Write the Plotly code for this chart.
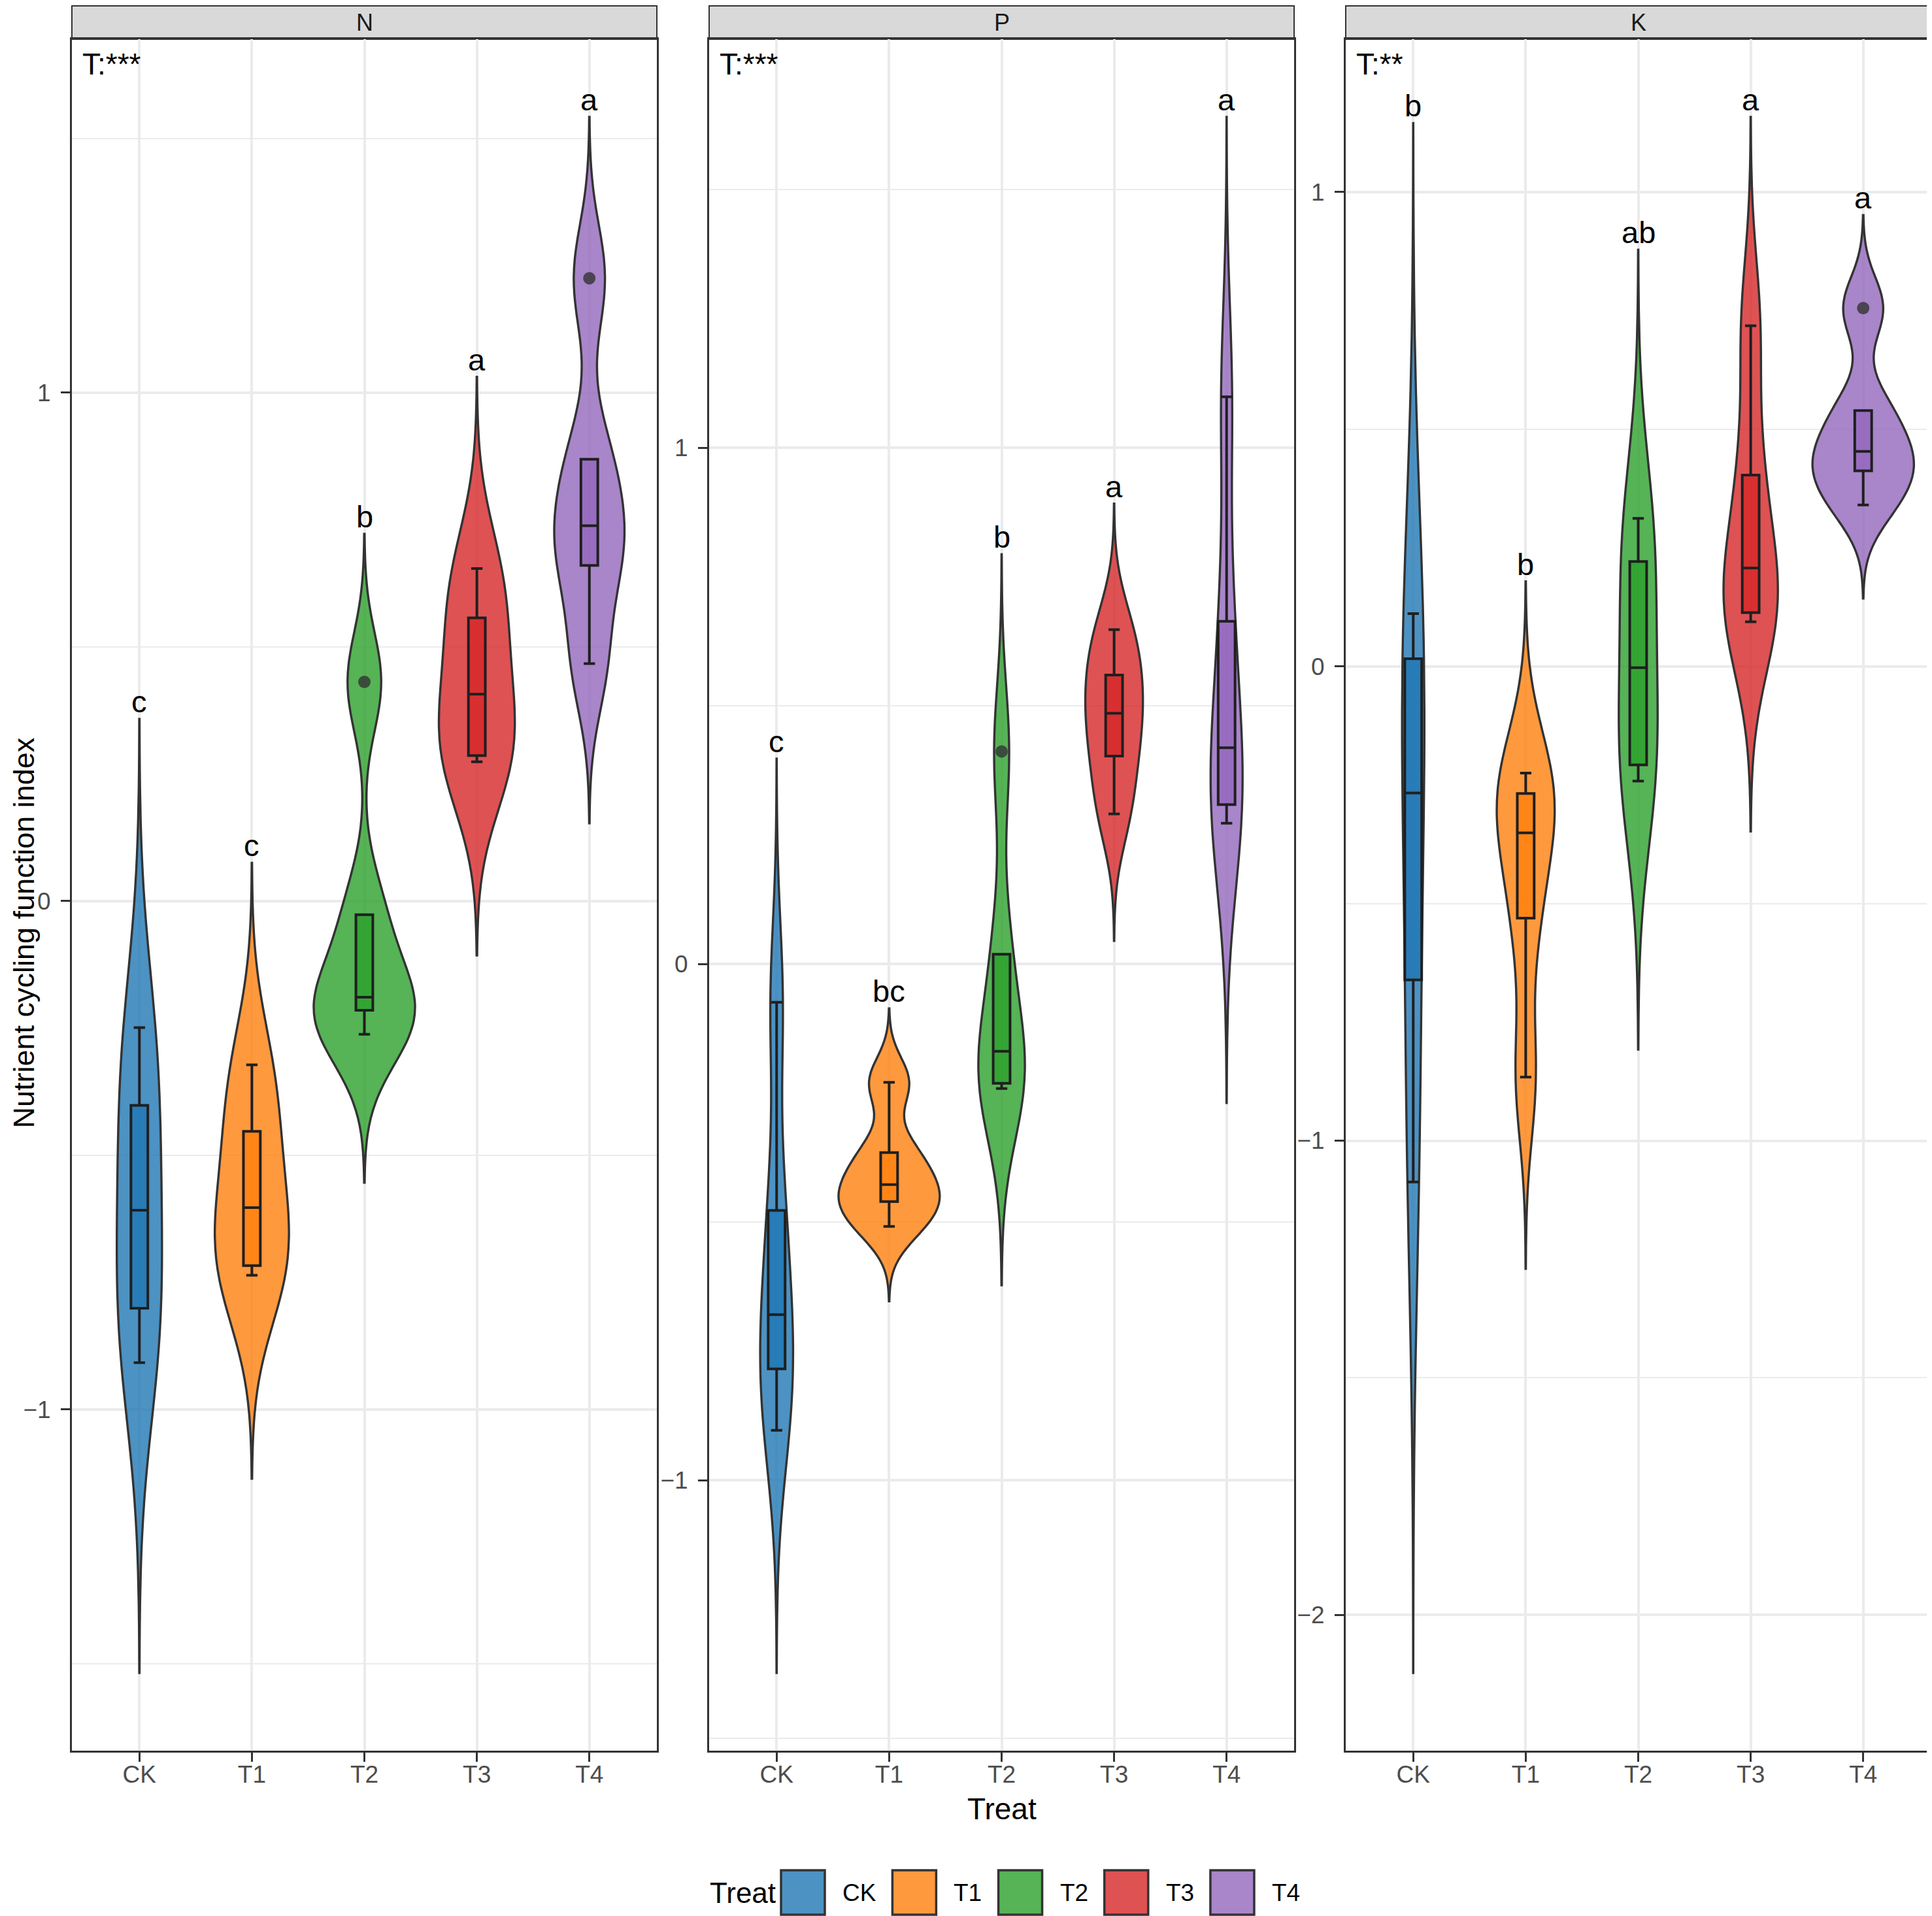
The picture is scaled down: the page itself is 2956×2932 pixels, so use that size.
import numpy as np
import plotly.graph_objects as go

# Treatments, panels and colours
TREATS = ['CK', 'T1', 'T2', 'T3', 'T4']
PANELS = ['N', 'P', 'K']
COLORS = ['#1f77b4', '#ff7f0e', '#2ca02c', '#d62728', '#9467bd']

# Sample values per treatment (min, Q1, median, Q3, max / outlier)
N_CK = [-0.908, -0.801, -0.608, -0.402, -0.249]
N_T1 = [-0.736, -0.717, -0.603, -0.453, -0.322]
N_T2 = [-0.262, -0.215, -0.189, -0.027, 0.431]
N_T3 = [0.274, 0.286, 0.407, 0.557, 0.654]
N_T4 = [0.467, 0.660, 0.738, 0.869, 1.225]

P_CK = [-0.903, -0.784, -0.679, -0.477, -0.074]
P_T1 = [-0.508, -0.460, -0.427, -0.365, -0.229]
P_T2 = [-0.241, -0.231, -0.169, 0.019, 0.412]
P_T3 = [0.291, 0.403, 0.486, 0.560, 0.648]
P_T4 = [0.273, 0.309, 0.419, 0.664, 1.099]

K_CK = [-1.087, -0.661, -0.267, 0.016, 0.111]
K_T1 = [-0.866, -0.531, -0.351, -0.268, -0.225]
K_T2 = [-0.242, -0.208, -0.003, 0.221, 0.312]
K_T3 = [0.094, 0.113, 0.207, 0.403, 0.718]
K_T4 = [0.340, 0.412, 0.453, 0.539, 0.755]

# Ends of the violin tails (untrimmed densities)
N_SPAN_LO = [-1.518, -1.136, -0.554, -0.107, 0.153]
N_SPAN_HI = [0.358, 0.075, 0.722, 1.031, 1.542]
P_SPAN_LO = [-1.373, -0.653, -0.622, 0.045, -0.269]
P_SPAN_HI = [0.398, -0.086, 0.794, 0.892, 1.641]
K_SPAN_LO = [-2.122, -1.270, -0.808, -0.348, 0.143]
K_SPAN_HI = [1.145, 0.179, 0.878, 1.158, 0.951]

# Significance letters and test labels
N_LETTERS = ['c', 'c', 'b', 'a', 'a']
P_LETTERS = ['c', 'bc', 'b', 'a', 'a']
K_LETTERS = ['b', 'b', 'ab', 'a', 'a']
SIG_LABELS = ['T:***', 'T:***', 'T:**']

panel_values = [[N_CK, N_T1, N_T2, N_T3, N_T4],
                [P_CK, P_T1, P_T2, P_T3, P_T4],
                [K_CK, K_T1, K_T2, K_T3, K_T4]]
panel_lo = [N_SPAN_LO, P_SPAN_LO, K_SPAN_LO]
panel_hi = [N_SPAN_HI, P_SPAN_HI, K_SPAN_HI]
panel_letters = [N_LETTERS, P_LETTERS, K_LETTERS]

W, H = 2956, 2932
OFF = 8  # the page body margin pushes the figure 8px right and down
FONT = 'Liberation Sans, Arial, sans-serif'
DARK = '#333333'
GRID = '#EBEBEB'

# Panel placement in window pixels (left, right), shared top/bottom
panel_px = [(110, 1005), (1085, 1980), (2059, 2954)]
top_px, bottom_px = 60, 2679


def px_x(p):
    return (p - OFF) / W


def px_y(p):
    return 1 - (p - OFF) / H


def rgba(hex_color, alpha):
    h = hex_color.lstrip('#')
    r, g, b = int(h[0:2], 16), int(h[2:4], 16), int(h[4:6], 16)
    return f'rgba({r},{g},{b},{alpha})'


fig = go.Figure()

# Violins first so the boxes sit on top
for k, panel in enumerate(PANELS):
    suffix = '' if k == 0 else str(k + 1)
    for i, treat in enumerate(TREATS):
        vals = panel_values[k][i]
        lo, hi = panel_lo[k][i], panel_hi[k][i]
        # ggplot trim = FALSE: tails reach 3 bandwidths past the data
        bw = ((hi - max(vals)) + (min(vals) - lo)) / 6
        # no explicit width, otherwise plotly ignores the scale group
        fig.add_trace(go.Violin(
            x=[treat] * len(vals), y=vals,
            xaxis='x' + suffix, yaxis='y' + suffix,
            name=treat, showlegend=False,
            bandwidth=bw, spanmode='manual', span=[lo, hi],
            scalegroup=panel, scalemode='width',
            fillcolor=rgba(COLORS[i], 0.8),
            line=dict(color=DARK, width=3.4),
            points=False, box_visible=False, meanline_visible=False,
            hoverinfo='skip',
        ))

for k, panel in enumerate(PANELS):
    suffix = '' if k == 0 else str(k + 1)
    for i, treat in enumerate(TREATS):
        vals = panel_values[k][i]
        fig.add_trace(go.Box(
            x=[treat] * len(vals), y=vals,
            xaxis='x' + suffix, yaxis='y' + suffix,
            name=treat, showlegend=False,
            quartilemethod='inclusive',
            width=0.15, whiskerwidth=0.67,
            fillcolor=rgba(COLORS[i], 0.8),
            line=dict(color='#1f1f1f', width=4),
            boxpoints='outliers',
            marker=dict(color='rgba(51,51,51,0.8)', size=19, line=dict(width=0)),
            hoverinfo='skip',
        ))

axis_common = dict(
    showline=True, mirror=True, linecolor=DARK, linewidth=3,
    ticks='outside', ticklen=14, tickwidth=3, tickcolor=DARK,
    tickfont=dict(family=FONT, size=37, color='#4D4D4D'),
    zeroline=False, showgrid=True, gridcolor=GRID, gridwidth=3.5,
    automargin=False,
)

layout_axes = {}
annotations = []
shapes = []
for k, panel in enumerate(PANELS):
    suffix = '' if k == 0 else str(k + 1)
    x0, x1 = panel_px[k]
    lo_all, hi_all = min(panel_lo[k]), max(panel_hi[k])
    pad = 0.05 * (hi_all - lo_all)

    layout_axes['xaxis' + suffix] = dict(
        axis_common,
        domain=[px_x(x0), px_x(x1)], anchor='y' + suffix,
        type='category', categoryorder='array', categoryarray=TREATS,
        range=[-0.6, len(TREATS) - 0.4], ticklabelstandoff=-12,
    )
    layout_axes['yaxis' + suffix] = dict(
        axis_common,
        domain=[px_y(bottom_px), px_y(top_px)], anchor='x' + suffix,
        range=[lo_all - pad, hi_all + pad],
        tickmode='linear', tick0=0, dtick=1, ticklabelstandoff=8,
        minor=dict(dtick=0.5, showgrid=True, gridcolor=GRID, gridwidth=1.8),
    )

    # strip
    shapes.append(dict(
        type='rect', xref='paper', yref='paper',
        x0=px_x(x0), x1=px_x(x1), y0=px_y(top_px), y1=px_y(OFF + 1),
        fillcolor='#D9D9D9', line=dict(color=DARK, width=2), layer='below',
    ))
    annotations.append(dict(
        text=panel, xref='paper', yref='paper',
        x=px_x((x0 + x1) / 2), y=px_y(34), xanchor='center', yanchor='middle',
        showarrow=False, font=dict(family=FONT, size=36, color='#1A1A1A'),
    ))

    # test label in the top-left corner
    annotations.append(dict(
        text=SIG_LABELS[k], xref='x' + suffix + ' domain', yref='y' + suffix + ' domain',
        x=0.016, y=0.996, xanchor='left', yanchor='top', showarrow=False,
        font=dict(family=FONT, size=46, color='black'),
    ))

    # letters above each violin
    for i, treat in enumerate(TREATS):
        annotations.append(dict(
            text=panel_letters[k][i], xref='x' + suffix, yref='y' + suffix,
            x=treat, y=panel_hi[k][i], xanchor='center', yanchor='bottom',
            yshift=-2, showarrow=False,
            font=dict(family=FONT, size=47, color='black'),
        ))

# axis titles
annotations.append(dict(
    text='Treat', xref='paper', yref='paper',
    x=px_x((panel_px[1][0] + panel_px[1][1]) / 2), y=px_y(2768),
    xanchor='center', yanchor='middle', showarrow=False,
    font=dict(family=FONT, size=46, color='black'),
))
annotations.append(dict(
    text='Nutrient cycling function index', xref='paper', yref='paper',
    x=0, y=px_y(1428), xanchor='left', yanchor='middle',
    textangle=-90, showarrow=False,
    font=dict(family=FONT, size=45, color='black'),
))

# legend drawn by hand so the keys get ggplot's size
char_w = {'C': 0.722, 'K': 0.667, 'T': 0.611}
legend_font = 37
key_w = 67
key_top, key_bottom = 2862, 2930
cur = 1195
annotations.append(dict(
    text='Treat', xref='paper', yref='paper',
    x=px_x(cur - 6), y=px_y((key_top + key_bottom) / 2),
    xanchor='right', yanchor='middle', showarrow=False,
    font=dict(family=FONT, size=44, color='black'),
))
for i, treat in enumerate(TREATS):
    shapes.append(dict(
        type='rect', xref='paper', yref='paper',
        x0=px_x(cur), x1=px_x(cur + key_w), y0=px_y(key_bottom), y1=px_y(key_top),
        fillcolor=rgba(COLORS[i], 0.8), line=dict(color=DARK, width=3.5),
    ))
    label_x = cur + key_w + 25
    annotations.append(dict(
        text=treat, xref='paper', yref='paper',
        x=px_x(label_x), y=px_y((key_top + key_bottom) / 2),
        xanchor='left', yanchor='middle', showarrow=False,
        font=dict(family=FONT, size=legend_font, color='black'),
    ))
    text_w = sum(char_w.get(c, 0.556) for c in treat) * legend_font
    cur = label_x + text_w + 27

fig.update_layout(
    width=W, height=H, autosize=False,
    margin=dict(l=0, r=0, t=0, b=0),
    paper_bgcolor='white', plot_bgcolor='white',
    violinmode='overlay', violingap=0.1, violingroupgap=0,
    boxmode='overlay',
    showlegend=False,
    annotations=annotations, shapes=shapes,
    font=dict(family=FONT),
    **layout_axes,
)

fig.write_html('out.html')
